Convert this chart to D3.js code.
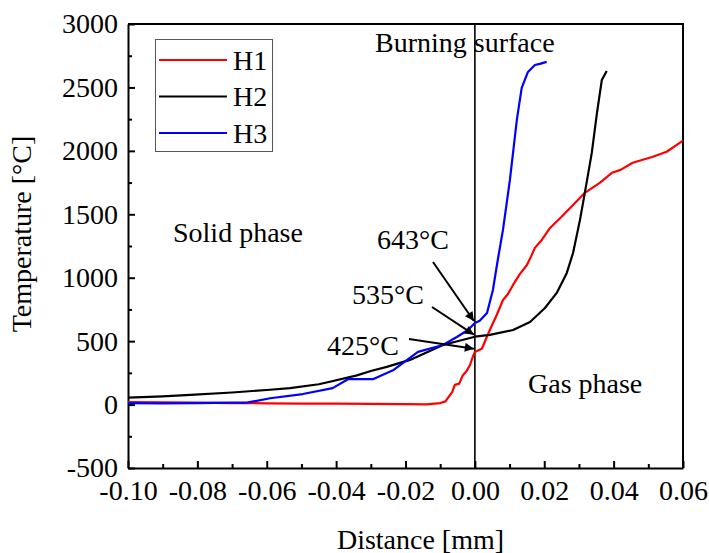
<!DOCTYPE html>
<html>
<head>
<meta charset="utf-8">
<script src="https://cdn.jsdelivr.net/npm/d3@7"></script>
<style>
  body { margin: 0; background: #fff; }
  text { font-family: "Liberation Serif", "Times New Roman", serif; fill: #000; }
</style>
</head>
<body>
<script>
// DATA (distance in mm, temperature in °C)
var seriesNames = ['H1', 'H2', 'H3'];
var seriesColors = ['#ff0000', '#000000', '#0000ff'];

var distH1 = [-0.100, -0.090, -0.080, -0.070, -0.060, -0.050, -0.040, -0.030, -0.020, -0.014, -0.010, -0.0085, -0.0065, -0.0058, -0.0045, -0.0035, -0.0025, -0.0014, -0.0006, 0.000, 0.002, 0.0043, 0.0063, 0.0081, 0.0095, 0.011, 0.013, 0.015, 0.0164, 0.0173, 0.0193, 0.0216, 0.025, 0.0283, 0.0317, 0.036, 0.0395, 0.042, 0.0455, 0.0513, 0.0553, 0.060];
var tempH1 = [20, 18, 15, 12, 10, 8, 8, 6, 4, 2, 12, 25, 100, 155, 165, 230, 260, 312, 376, 415, 440, 588, 706, 824, 870, 943, 1030, 1100, 1180, 1235, 1298, 1390, 1480, 1574, 1669, 1748, 1827, 1850, 1906, 1953, 1993, 2080];

var distH2 = [-0.100, -0.090, -0.082, -0.070, -0.060, -0.0533, -0.045, -0.0418, -0.034, -0.030, -0.0254, -0.0187, -0.0092, 0.000, 0.0043, 0.011, 0.0159, 0.0202, 0.0236, 0.0265, 0.0283, 0.0297, 0.0303, 0.0317, 0.0337, 0.0352, 0.0366, 0.038];
var tempH2 = [55, 65, 76, 95, 115, 130, 160, 180, 230, 265, 297, 352, 470, 535, 549, 588, 651, 761, 880, 1038, 1195, 1377, 1456, 1669, 1984, 2299, 2559, 2630];

var distH3 = [-0.100, -0.090, -0.080, -0.070, -0.0657, -0.059, -0.0496, -0.041, -0.0366, -0.0294, -0.0236, -0.0207, -0.0164, -0.0092, -0.0052, -0.002, 0.000, 0.0014, 0.0035, 0.0052, 0.0066, 0.0081, 0.0101, 0.0121, 0.0135, 0.0153, 0.0173, 0.0187, 0.0207];
var tempH3 = [12, 10, 12, 15, 15, 50, 83, 130, 200, 200, 270, 328, 415, 470, 533, 588, 643, 660, 722, 903, 1140, 1377, 1771, 2244, 2496, 2622, 2677, 2686, 2701];

var xTicks = [-0.10, -0.08, -0.06, -0.04, -0.02, 0.00, 0.02, 0.04, 0.06];
var yTicks = [-500, 0, 500, 1000, 1500, 2000, 2500, 3000];

var markLabels = ['643°C', '535°C', '425°C'];
var markValues = [643, 535, 425];

var chart = {
    init: function () {
        var self = this;

        self.width = 709;
        self.height = 553;
        self.margin = {top: 24, right: 26, bottom: 85, left: 128};

        self.svg = d3.select('body').append('svg')
            .attr('width', self.width)
            .attr('height', self.height);

        self.svg.append('defs').append('marker')
            .attr('id', 'arrow')
            .attr('viewBox', '0 0 10 10')
            .attr('refX', 10).attr('refY', 5)
            .attr('markerUnits', 'userSpaceOnUse')
            .attr('markerWidth', 12).attr('markerHeight', 9)
            .attr('orient', 'auto')
            .append('path')
            .attr('d', 'M0,0 L10,5 L0,10 Z')
            .attr('fill', '#000');

        self.x = d3.scaleLinear().domain([-0.10, 0.06])
            .range([self.margin.left, self.width - self.margin.right]);
        self.y = d3.scaleLinear().domain([-500, 3000])
            .range([self.height - self.margin.bottom, self.margin.top]);

        self.series = [
            {name: seriesNames[0], color: seriesColors[0], d: distH1, t: tempH1},
            {name: seriesNames[1], color: seriesColors[1], d: distH2, t: tempH2},
            {name: seriesNames[2], color: seriesColors[2], d: distH3, t: tempH3}
        ];

        self.drawAxes();
        self.drawLines();
        self.drawNotes();
        self.drawLegend();
    },
    drawAxes: function () {
        var self = this,
            x = self.x,
            y = self.y,
            bottom = self.height - self.margin.bottom,
            gx, gy;

        // minor ticks
        self.svg.append('g')
            .attr('transform', 'translate(0,' + bottom + ')')
            .call(d3.axisBottom(x).tickValues(d3.range(-0.09, 0.06, 0.02)).tickSize(-4).tickFormat(''))
            .call(function (g) { g.select('.domain').remove(); })
            .selectAll('line').attr('stroke-width', 2);
        self.svg.append('g')
            .attr('transform', 'translate(' + self.margin.left + ',0)')
            .call(d3.axisLeft(y).tickValues(d3.range(-250, 3000, 500)).tickSize(-4).tickFormat(''))
            .call(function (g) { g.select('.domain').remove(); })
            .selectAll('line').attr('stroke-width', 2);

        gx = self.svg.append('g')
            .attr('transform', 'translate(0,' + bottom + ')')
            .call(d3.axisBottom(x).tickValues(xTicks).tickSize(-7).tickSizeOuter(0).tickPadding(12)
                .tickFormat(function (d) { return d3.format('.2f')(d).replace('−', '-'); }));
        gy = self.svg.append('g')
            .attr('transform', 'translate(' + self.margin.left + ',0)')
            .call(d3.axisLeft(y).tickValues(yTicks).tickSize(-7).tickSizeOuter(0).tickPadding(10)
                .tickFormat(function (d) { return String(d); }));

        [gx, gy].forEach(function (g) {
            g.selectAll('.domain').attr('stroke-width', 2);
            g.selectAll('line').attr('stroke-width', 2);
            g.selectAll('text').style('font-size', '28px').style('font-family', '"Liberation Serif", serif');
        });

        // frame top and right
        self.svg.append('path')
            .attr('d', 'M' + x(-0.10) + ',' + y(3000) + 'H' + x(0.06) + 'V' + y(-500))
            .attr('fill', 'none').attr('stroke', '#000').attr('stroke-width', 2);

        // burning surface line
        self.svg.append('line')
            .attr('x1', x(0)).attr('x2', x(0))
            .attr('y1', y(3000)).attr('y2', y(-500))
            .attr('stroke', '#000').attr('stroke-width', 1.6);

        self.svg.append('text')
            .attr('x', (x(-0.10) + x(0.06)) / 2 + 15)
            .attr('y', self.height - 4)
            .attr('text-anchor', 'middle')
            .style('font-size', '28px')
            .text('Distance [mm]');

        self.svg.append('text')
            .attr('transform', 'translate(31,' + 234 + ') rotate(-90)')
            .attr('text-anchor', 'middle')
            .style('font-size', '28px')
            .text('Temperature [°C]');
    },
    drawLines: function () {
        var self = this,
            line;

        self.series.forEach(function (s) {
            line = d3.line()
                .x(function (d, i) { return self.x(s.d[i]); })
                .y(function (d, i) { return self.y(s.t[i]); });
            self.svg.append('path')
                .datum(s.t)
                .attr('d', line)
                .attr('fill', 'none')
                .attr('stroke', s.color)
                .attr('stroke-width', 2.2)
                .attr('stroke-linejoin', 'round');
        });
    },
    drawNotes: function () {
        var self = this,
            textPos = [[377, 249], [352, 304], [327, 355]],
            arrowFrom = [[433, 262], [432, 307], [409, 339]];

        markLabels.forEach(function (label, i) {
            self.svg.append('text')
                .attr('x', textPos[i][0]).attr('y', textPos[i][1])
                .style('font-size', '28px')
                .text(label);
            self.svg.append('line')
                .attr('x1', arrowFrom[i][0]).attr('y1', arrowFrom[i][1])
                .attr('x2', self.x(0) - 1).attr('y2', self.y(markValues[i]) - 2)
                .attr('stroke', '#000').attr('stroke-width', 2)
                .attr('marker-end', 'url(#arrow)');
        });

        [['Burning surface', 375, 52], ['Solid phase', 173, 242], ['Gas phase', 528, 393]].forEach(function (n) {
            self.svg.append('text')
                .attr('x', n[1]).attr('y', n[2])
                .style('font-size', '28px')
                .text(n[0]);
        });
    },
    drawLegend: function () {
        var self = this,
            g = self.svg.append('g');

        g.append('rect')
            .attr('x', 155.5).attr('y', 39.5)
            .attr('width', 117).attr('height', 112)
            .attr('fill', '#fff').attr('stroke', '#555').attr('stroke-width', 1);

        self.series.forEach(function (s, i) {
            var cy = 60 + i * 36.5;
            g.append('line')
                .attr('x1', 159).attr('x2', 227)
                .attr('y1', cy).attr('y2', cy)
                .attr('stroke', s.color).attr('stroke-width', 2.2);
            g.append('text')
                .attr('x', 233).attr('y', cy)
                .attr('dy', '0.35em')
                .style('font-size', '28px')
                .text(s.name);
        });
    }
};

chart.init();
</script>
</body>
</html>
